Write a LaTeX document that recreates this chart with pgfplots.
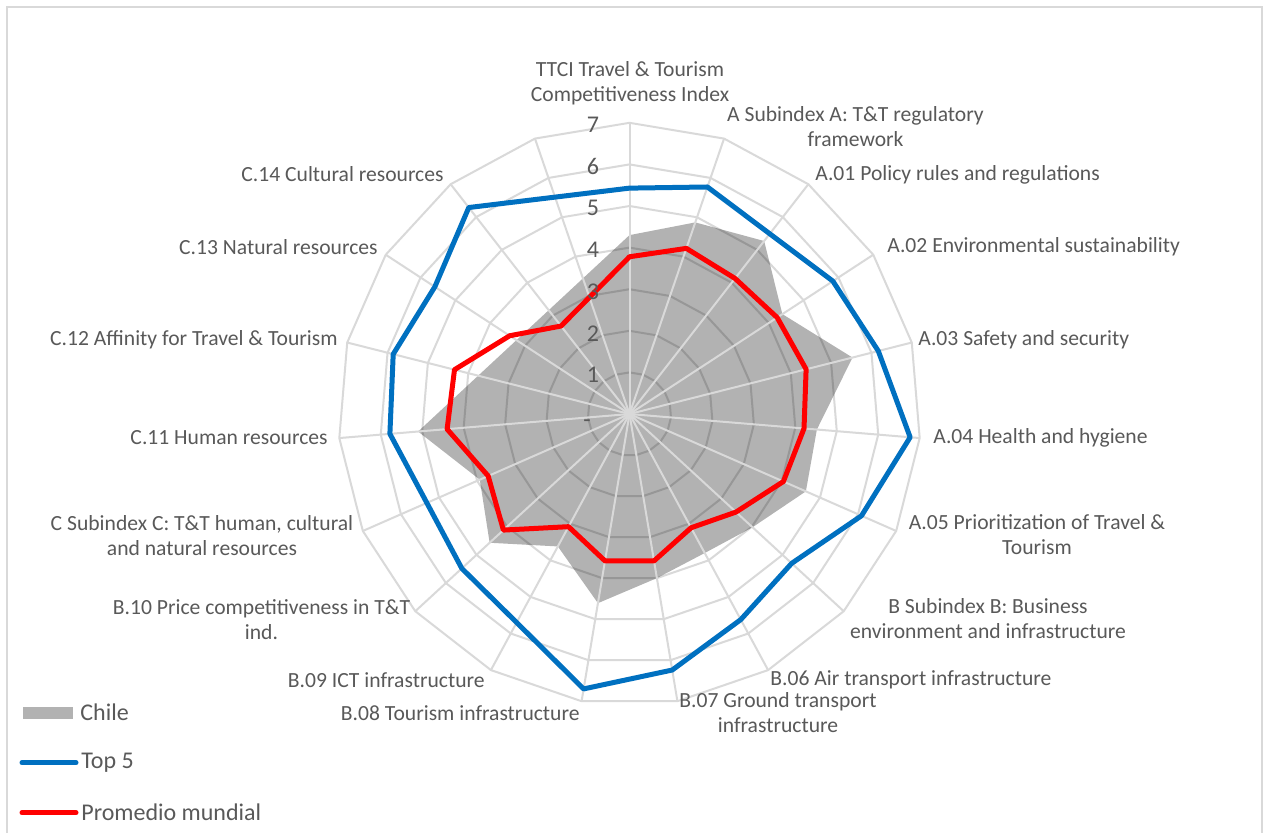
\documentclass[border=0pt]{standalone}
\usepackage{pgfplots}
\pgfplotsset{compat=1.18}
\usepackage{pgfplotstable}
\usepgfplotslibrary{polar}
\usepackage{fontspec}
\setmainfont{Carlito}
\definecolor{txt}{HTML}{595959}
\definecolor{gridc}{HTML}{D9D9D9}
\definecolor{topblue}{HTML}{0070C0}
\definecolor{avgred}{HTML}{FF0000}

% angle of each of the 19 spokes (clockwise from top), closed
\pgfplotstableread{
ang one
90 1
71.053 1
52.105 1
33.158 1
14.211 1
355.263 1
336.316 1
317.368 1
298.421 1
279.474 1
260.526 1
241.579 1
222.632 1
203.684 1
184.737 1
165.789 1
146.842 1
127.895 1
108.947 1
90 1
}\angs

% Chile (no values for C.12, C.13, C.14)
\pgfplotstableread{
ang val
90 4.30
71.053 4.87
52.105 5.27
33.158 4.39
14.211 5.53
355.263 4.52
336.316 4.63
317.368 4.02
298.421 3.80
279.474 4.00
260.526 4.61
241.579 3.62
222.632 4.57
203.684 3.93
184.737 5.10
90 4.30
}\chile

% Top 5 and Promedio mundial
\pgfplotstableread{
ang top avg
90 5.43 3.78
71.053 5.77 4.21
52.105 5.49 4.13
33.158 5.84 4.24
14.211 6.17 4.38
355.263 6.77 4.21
336.316 6.09 4.04
317.368 5.30 3.48
298.421 5.62 3.11
279.474 6.24 3.58
260.526 6.70 3.58
241.579 5.70 3.08
222.632 5.48 4.12
203.684 5.32 3.71
184.737 5.78 4.40
165.789 5.86 4.34
146.842 5.59 3.44
127.895 6.29 2.68
90 5.43 3.78
}\series

\begin{document}
\begin{tikzpicture}[x=0.5pt,y=0.5pt]
\useasboundingbox (0,0) rectangle (1267,832);
\fill[white] (0,0) rectangle (1267,832);
\draw[gridc, line width=1pt] (7,-5) -- (7,824.5) -- (1262,824.5) -- (1262,-5);

\begin{polaraxis}[at={(314.75pt,209pt)}, anchor=origin, scale only axis,
  width=291.2pt, height=291.2pt, ymin=0, ymax=7, hide axis, clip=false]
  % rings
  \pgfplotsinvokeforeach{1,2,3,4,5,6,7}{
    \addplot[gridc, line width=1pt, no markers, line join=round] table[x=ang, y expr={#1*\thisrow{one}}] {\angs};
  }
  % Chile
  \addplot[draw=none, fill=black, fill opacity=0.3, no markers] table[x=ang, y=val] {\chile};
  % spokes
  \pgfplotsinvokeforeach{90,71.053,52.105,33.158,14.211,355.263,336.316,317.368,298.421,279.474,260.526,241.579,222.632,203.684,184.737,165.789,146.842,127.895,108.947}{
    \addplot[gridc, line width=1pt, no markers] coordinates {(#1,0) (#1,7)};
  }
  % Top 5
  \addplot[topblue, line width=2.5pt, no markers, line join=round, line cap=round] table[x=ang, y=top] {\series};
  % Promedio mundial
  \addplot[avgred, line width=2.5pt, no markers, line join=round, line cap=round] table[x=ang, y=avg] {\series};
\end{polaraxis}

\begin{scope}[every node/.style={text=txt, inner sep=0pt, font=\fontsize{10.8pt}{12.5pt}\selectfont}]
  % radial tick labels
  \begin{scope}[every node/.append style={font=\fontsize{12pt}{14pt}\selectfont}]
  \node at (593,707) {7};
  \node at (593,666) {6};
  \node at (593,623.7) {5};
  \node at (593,582) {4};
  \node at (593,540.3) {3};
  \node at (593,498.7) {2};
  \node at (593,457) {1};
  \node at (587,408) {-};
  \end{scope}
  % category labels
  \node[align=center] at (630,748.5) {TTCI Travel \& Tourism\\Competitiveness Index};
  \node[align=center] at (855.5,705.5) {A Subindex A: T\&T regulatory\\framework};
  \node[anchor=west] at (815,657) {A.01 Policy rules and regulations};
  \node[anchor=west] at (887,585) {A.02 Environmental sustainability};
  \node[anchor=west] at (918,492) {A.03 Safety and security};
  \node[anchor=west] at (933,394) {A.04 Health and hygiene};
  \node[align=center] at (1037,297) {A.05 Prioritization of Travel \&\\Tourism};
  \node[align=center] at (988,213) {B Subindex B: Business\\environment and infrastructure};
  \node[anchor=west] at (770,152) {B.06 Air transport infrastructure};
  \node[align=center] at (778,119) {B.07 Ground transport\\infrastructure};
  \node[anchor=east] at (580,119) {B.08 Tourism infrastructure};
  \node[anchor=east] at (485,152) {B.09 ICT infrastructure};
  \node[align=center] at (261.5,212.5) {B.10 Price competitiveness in T\&T\\ind.};
  \node[align=center] at (202,296.5) {C Subindex C: T\&T human, cultural\\and natural resources};
  \node[anchor=east] at (328,394) {C.11 Human resources};
  \node[anchor=east] at (338,492) {C.12 Affinity for Travel \& Tourism};
  \node[anchor=east] at (378,585) {C.13 Natural resources};
  \node[anchor=east] at (444,658) {C.14 Cultural resources};
  % legend
  \begin{scope}[every node/.append style={font=\fontsize{12pt}{14pt}\selectfont}]
  \fill[black!30] (22.7,112.7) rectangle (73.3,125.3);
  \node[anchor=west] at (80,120) {Chile};
  \draw[topblue, line width=2.5pt, line cap=round] (22,69.3) -- (76,69.3);
  \node[anchor=west] at (81,69.3) {Top 5};
  \draw[avgred, line width=2.5pt, line cap=round] (22,19.3) -- (76,19.3);
  \node[anchor=west] at (81,19.3) {Promedio mundial};
  \end{scope}
\end{scope}
\end{tikzpicture}
\end{document}
